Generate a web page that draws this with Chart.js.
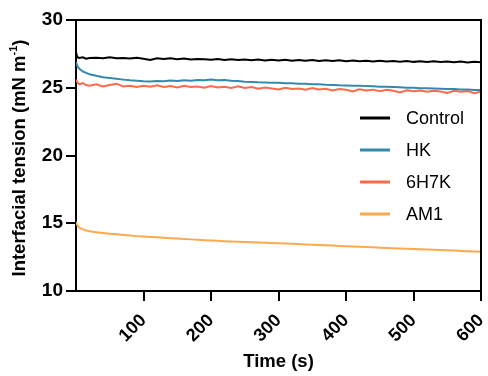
<!DOCTYPE html>
<html>
<head>
<meta charset="utf-8">
<script src="https://cdn.jsdelivr.net/npm/chart.js@4"></script>
<style>
  body { margin: 0; background: #fff; }
  #wrap { width: 488px; height: 376px; position: relative; }
</style>
</head>
<body>
<div id="wrap"><canvas id="tensionChart"></canvas></div>
<script>
// time points (s)
const timeS = [0, 2, 5, 10, 15, 20, 30, 40, 50, 60, 70, 80, 90, 100, 110, 120, 130, 140, 150, 160, 170, 180, 190, 200,
    210, 220, 230, 240, 250, 260, 270, 280, 290, 300, 310, 320, 330, 340, 350, 360, 370, 380, 390, 400,
    410, 420, 430, 440, 450, 460, 470, 480, 490, 500, 510, 520, 530, 540, 550, 560, 570, 580, 590, 600];

const seriesNames = ["Control", "HK", "6H7K", "AM1"];

const controlVals = [27.6, 27.25, 27.2, 27.25, 27.15, 27.2, 27.22, 27.18, 27.25, 27.17, 27.2, 27.15, 27.21, 27.14, 27.05, 27.18, 27.12, 27.17, 27.1, 27.15, 27.08, 27.13, 27.1, 27.06,
    27.12, 27.05, 27.1, 27.04, 27.09, 27.03, 27.08, 27.02, 27.07, 27.01, 27.06, 27.0, 27.05, 26.99, 27.04, 26.98, 27.03, 26.97, 27.02, 26.96,
    27.01, 26.95, 27.0, 26.94, 26.99, 26.93, 26.98, 26.92, 26.97, 26.91, 26.96, 26.9, 26.95, 26.9, 26.94, 26.88, 26.93, 26.87, 26.92, 26.89];

const hkVals = [26.9, 26.6, 26.4, 26.2, 26.1, 26.0, 25.88, 25.78, 25.72, 25.66, 25.6, 25.55, 25.52, 25.48, 25.47, 25.5, 25.48, 25.53, 25.5, 25.56, 25.52, 25.58, 25.55, 25.6,
    25.56, 25.58, 25.52, 25.5, 25.45, 25.43, 25.4, 25.39, 25.36, 25.36, 25.33, 25.33, 25.3, 25.29, 25.26, 25.25, 25.22, 25.21, 25.18, 25.17,
    25.15, 25.15, 25.12, 25.11, 25.08, 25.07, 25.05, 25.04, 25.0, 25.0, 24.97, 24.96, 24.94, 24.93, 24.9, 24.9, 24.87, 24.87, 24.84, 24.83];

const h7kVals = [25.6, 25.4, 25.25, 25.35, 25.2, 25.15, 25.25, 25.1, 25.2, 25.3, 25.1, 25.15, 25.05, 25.15, 25.08, 25.18, 25.05, 25.12, 25.02, 25.15, 25.05, 25.1, 25.0, 25.12,
    25.02, 25.08, 24.98, 25.1, 24.98, 25.05, 24.92, 25.02, 24.95, 24.88, 25.0, 24.9, 24.95, 24.85, 24.98, 24.88, 24.92, 24.8, 24.9, 24.85,
    24.72, 24.88, 24.8, 24.86, 24.75, 24.85, 24.78, 24.65, 24.82, 24.75, 24.8, 24.7, 24.78, 24.72, 24.62, 24.78, 24.7, 24.75, 24.6, 24.72];

const am1Vals = [15.1, 14.85, 14.68, 14.55, 14.47, 14.41, 14.34, 14.28, 14.23, 14.18, 14.13, 14.09, 14.05, 14.02, 13.99, 13.96, 13.93, 13.9, 13.87, 13.84, 13.81, 13.78, 13.75, 13.72,
    13.7, 13.68, 13.66, 13.64, 13.62, 13.6, 13.58, 13.56, 13.54, 13.52, 13.5, 13.48, 13.46, 13.43, 13.41, 13.39, 13.37, 13.35, 13.33, 13.3,
    13.28, 13.26, 13.24, 13.22, 13.2, 13.18, 13.16, 13.14, 13.12, 13.1, 13.08, 13.06, 13.04, 13.02, 13.0, 12.98, 12.96, 12.94, 12.92, 12.9];

const seriesColors = ["#000000", "#3589ad", "#fe6a4b", "#ffa94f"];

const FONT = "'Liberation Sans', Arial, sans-serif";

function toPoints(vals) {
    return timeS.map((t, i) => ({ x: t, y: vals[i] }));
}

// box on top/right, legend inside plot, y title with superscript
const extrasPlugin = {
    id: "extras",
    afterDraw(chart) {
        const { ctx, chartArea } = chart;
        ctx.save();
        ctx.strokeStyle = "#000";
        ctx.lineWidth = 2;
        ctx.beginPath();
        ctx.moveTo(chartArea.left, chartArea.top);
        ctx.lineTo(chartArea.right, chartArea.top);
        ctx.lineTo(chartArea.right, chartArea.bottom);
        ctx.stroke();

        // legend
        const legendY = [chartArea.top + 98, chartArea.top + 130, chartArea.top + 162, chartArea.top + 194];
        ctx.font = "18px " + FONT;
        ctx.textBaseline = "middle";
        ctx.textAlign = "left";
        seriesNames.forEach((name, i) => {
            ctx.strokeStyle = seriesColors[i];
            ctx.lineWidth = 3;
            ctx.beginPath();
            ctx.moveTo(360, legendY[i]);
            ctx.lineTo(390, legendY[i]);
            ctx.stroke();
            ctx.fillStyle = "#000";
            ctx.fillText(name, 406, legendY[i] + 1);
        });

        // y axis title
        const main = "Interfacial tension (mN m";
        const sup = "-1";
        const tail = ")";
        ctx.font = "bold 18.5px " + FONT;
        const wMain = ctx.measureText(main).width;
        const wTail = ctx.measureText(tail).width;
        ctx.font = "bold 11px " + FONT;
        const wSup = ctx.measureText(sup).width;
        const total = wMain + wSup + wTail;
        ctx.translate(20, 158);
        ctx.rotate(-Math.PI / 2);
        ctx.fillStyle = "#000";
        ctx.textBaseline = "middle";
        let x0 = -total / 2;
        ctx.font = "bold 18.5px " + FONT;
        ctx.fillText(main, x0, 0);
        ctx.font = "bold 11px " + FONT;
        ctx.fillText(sup, x0 + wMain, -6);
        ctx.font = "bold 18.5px " + FONT;
        ctx.fillText(tail, x0 + wMain + wSup, 0);
        ctx.restore();
    }
};

const ctx = document.getElementById("tensionChart");

new Chart(ctx, {
    type: "line",
    data: {
        datasets: [
            { label: seriesNames[0], data: toPoints(controlVals), borderColor: seriesColors[0] },
            { label: seriesNames[1], data: toPoints(hkVals), borderColor: seriesColors[1] },
            { label: seriesNames[2], data: toPoints(h7kVals), borderColor: seriesColors[2] },
            { label: seriesNames[3], data: toPoints(am1Vals), borderColor: seriesColors[3] }
        ]
    },
    options: {
        responsive: true,
        maintainAspectRatio: false,
        animation: false,
        layout: { padding: { left: 0, top: 20, right: 7, bottom: 0 } },
        elements: {
            point: { radius: 0 },
            line: { borderWidth: 2, tension: 0 }
        },
        plugins: {
            legend: { display: false },
            tooltip: { enabled: false }
        },
        scales: {
            x: {
                type: "linear",
                min: 0,
                max: 600,
                afterFit(scale) {
                    scale.height = 85;
                    scale.paddingRight = 0;
                    scale.paddingLeft = 0;
                },
                ticks: {
                    stepSize: 100,
                    minRotation: 45,
                    maxRotation: 45,
                    padding: 9,
                    color: "#000",
                    font: { family: FONT, size: 18, weight: "bold" },
                    callback: v => (v === 0 ? "" : v)
                },
                grid: {
                    drawOnChartArea: false,
                    tickLength: 10,
                    lineWidth: 2,
                    tickColor: c => (c.tick && c.tick.value === 0 ? "rgba(0,0,0,0)" : "#000")
                },
                border: { color: "#000", width: 2 },
                title: {
                    display: true,
                    text: "Time (s)",
                    color: "#000",
                    font: { family: FONT, size: 18.5, weight: "bold" },
                    padding: { top: 0, bottom: 3 }
                }
            },
            y: {
                min: 10,
                max: 30,
                afterFit(scale) {
                    scale.width = 76;
                    scale.paddingTop = 0;
                    scale.paddingBottom = 0;
                },
                ticks: {
                    stepSize: 5,
                    padding: 3,
                    color: "#000",
                    font: { family: FONT, size: 19, weight: "bold" }
                },
                grid: {
                    drawOnChartArea: false,
                    tickLength: 10,
                    lineWidth: 2,
                    tickColor: "#000"
                },
                border: { color: "#000", width: 2 }
            }
        }
    },
    plugins: [extrasPlugin]
});
</script>
</body>
</html>
